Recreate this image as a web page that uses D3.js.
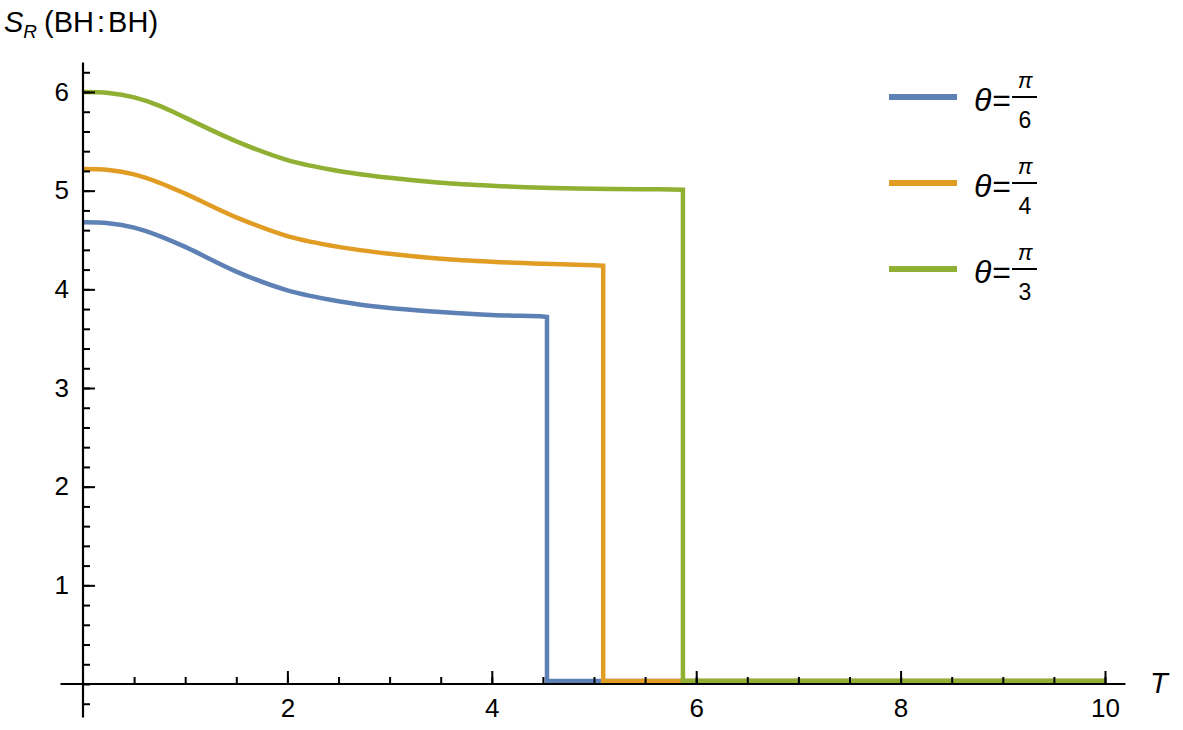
<!DOCTYPE html>
<html lang="en">
    <head>
        <meta charset="utf-8">
        <title>S_R (BH:BH)</title>
        <script src="https://d3js.org/d3.v7.min.js" charset="utf-8"></script>
        <style>
          html,body{margin:0;height:100%;background:#fff;}
          text{font-family:"Liberation Sans",Arial,sans-serif;fill:#000;}
        </style>
    </head>
    <body>
        <script type="text/javascript">

        var tSmooth = [0, 0.25, 0.5, 0.75, 1, 1.5, 2, 2.5, 3, 3.5, 4, 4.5, 5, 5.5];

        var blueS   = [4.68, 4.67, 4.625, 4.54, 4.43, 4.18, 3.99, 3.88, 3.81, 3.77, 3.74, 3.725];
        var orangeS = [5.22, 5.21, 5.165, 5.08, 4.97, 4.73, 4.54, 4.43, 4.36, 4.31, 4.28, 4.26, 4.245];
        var greenS  = [6.00, 5.99, 5.945, 5.86, 5.74, 5.50, 5.31, 5.20, 5.13, 5.08, 5.05, 5.03, 5.02, 5.015];

        // where each curve drops to zero: [T, value just before drop]
        var dropT   = [4.54, 5.09, 5.87];
        var dropV   = [3.72, 4.24, 5.01];
        var zeroV   = 0.03;
        var tMax    = 10;

        var names   = ["6", "4", "3"];
        var colors  = ["#5E81B5", "#E19C24", "#8FB032"];
        var series  = [blueS, orangeS, greenS];

        var xMajor  = [2, 4, 6, 8, 10];
        var xMinor  = d3.range(0.5, 10.01, 0.5);
        var yMajor  = [1, 2, 3, 4, 5, 6];
        var yMinor  = d3.range(-0.2, 6.21, 0.2);

        var width = 1183, height = 730;

        var svg = d3.select("body").append("svg")
            .attr("width", width)
            .attr("height", height);

        var x = d3.scaleLinear().domain([0, 10]).range([83, 1105]);
        var y = d3.scaleLinear().domain([0, 6]).range([684, 92]);

        // ---- curves
        var smooth = d3.line()
            .x(function(d){return x(d[0]);})
            .y(function(d){return y(d[1]);})
            .curve(d3.curveCatmullRom.alpha(0.5));
        var straight = d3.line()
            .x(function(d){return x(d[0]);})
            .y(function(d){return y(d[1]);});

        series.forEach(function(vals, i){
          var pts = vals.map(function(v, j){return [tSmooth[j], v];});
          pts.push([dropT[i], dropV[i]]);
          var step = [[dropT[i], dropV[i]], [dropT[i], zeroV], [tMax, zeroV]];
          var d = smooth(pts) + straight(step).replace(/^M/, "L");
          svg.append("path")
              .attr("d", d)
              .attr("fill", "none")
              .attr("stroke", colors[i])
              .attr("stroke-width", 4.5)
              .attr("stroke-linejoin", "miter");
        });

        // ---- axes
        var gx = svg.append("g").attr("transform", "translate(0," + y(0) + ")");
        gx.append("g").call(d3.axisBottom(x).tickValues(xMinor).tickSize(-7).tickFormat(""));
        gx.append("g").call(d3.axisBottom(x).tickValues(xMajor).tickSize(-13).tickPadding(15)
              .tickFormat(d3.format("d")));
        gx.selectAll(".domain").remove();
        gx.append("line")
            .attr("x1", x(-0.22)).attr("x2", x(10.2))
            .attr("stroke", "#000").attr("stroke-width", 2.2);

        var gy = svg.append("g").attr("transform", "translate(" + x(0) + ",0)");
        gy.append("g").call(d3.axisLeft(y).tickValues(yMinor).tickSize(-7).tickFormat(""));
        gy.append("g").call(d3.axisLeft(y).tickValues(yMajor).tickSize(-12).tickPadding(14)
              .tickFormat(d3.format("d")));
        gy.selectAll(".domain").remove();
        gy.append("line")
            .attr("y1", y(-0.34)).attr("y2", y(6.3))
            .attr("stroke", "#000").attr("stroke-width", 2.2);

        svg.selectAll(".tick line").attr("stroke", "#000").attr("stroke-width", 2);
        svg.selectAll(".tick text").attr("font-size", 26)
            .attr("font-family", "Liberation Sans, Arial, sans-serif").attr("fill", "#000");

        // axis labels
        svg.append("text")
            .attr("x", 1150).attr("y", 693)
            .attr("font-size", 29).attr("font-style", "italic")
            .text("T");

        var title = svg.append("text").attr("x", 4).attr("y", 32).attr("font-size", 29);
        title.append("tspan").attr("font-style", "italic").text("S");
        title.append("tspan").attr("font-style", "italic").attr("font-size", 19).attr("dy", 6).text("R");
        title.append("tspan").attr("dy", -6).attr("dx", 7).text("(BH");
        title.append("tspan").attr("dx", 3).text(":");
        title.append("tspan").attr("dx", 3).text("BH)");

        // ---- legend
        var legend = svg.append("g").attr("transform", "translate(889,97)");
        names.forEach(function(n, i){
          var g = legend.append("g").attr("transform", "translate(0," + (i * 86) + ")");
          g.append("line")
              .attr("x1", 0).attr("x2", 68)
              .attr("stroke", colors[i]).attr("stroke-width", 6);
          var t = g.append("text").attr("x", 85).attr("y", 14).attr("font-size", 32);
          t.append("tspan").attr("font-style", "italic").text("\u03b8");
          t.append("tspan").attr("dx", 1).text("=");
          g.append("text").attr("x", 136).attr("y", -9).attr("font-size", 22)
              .attr("font-style", "italic").attr("text-anchor", "middle").text("\u03c0");
          g.append("line").attr("x1", 123).attr("x2", 148)
              .attr("stroke", "#000").attr("stroke-width", 2);
          g.append("text").attr("x", 136).attr("y", 31).attr("font-size", 23)
              .attr("text-anchor", "middle").text(n);
        });

        </script>
    </body>
</html>
